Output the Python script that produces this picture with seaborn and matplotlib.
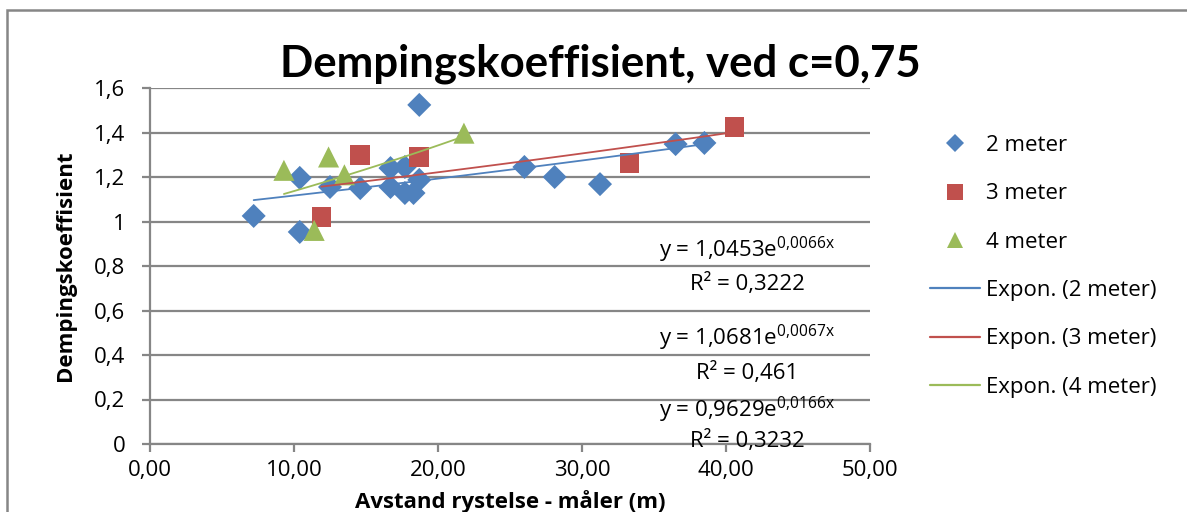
import numpy as np
import pandas as pd
import matplotlib
matplotlib.use("Agg")
import matplotlib.pyplot as plt
import seaborn as sns
from matplotlib.patches import Rectangle
from matplotlib.lines import Line2D

# ---- data ----
x2 = [7.2, 10.4, 10.4, 12.5, 14.6, 16.7, 16.7, 17.7, 17.7, 18.3, 18.7, 18.7, 26.0, 28.1, 31.25, 36.5, 38.5]
y2 = [1.025, 0.953, 1.196, 1.155, 1.15, 1.155, 1.24, 1.245, 1.128, 1.128, 1.187, 1.524, 1.245, 1.2, 1.168, 1.348, 1.353]
x3 = [11.9, 14.6, 18.7, 33.3, 40.6]
y3 = [1.02, 1.3, 1.29, 1.263, 1.425]
x4 = [9.3, 11.4, 12.4, 13.5, 21.8]
y4 = [1.23, 0.96, 1.29, 1.21, 1.397]

series_names = ["2 meter", "3 meter", "4 meter"]
trend_names = ["Expon. (2 meter)", "Expon. (3 meter)", "Expon. (4 meter)"]
trend_a = [1.0453, 1.0681, 0.9629]
trend_b = [0.0066, 0.0067, 0.0166]
eq_labels = ["y = 1,0453e", "y = 1,0681e", "y = 0,9629e"]
eq_exps = ["0,0066x", "0,0067x", "0,0166x"]
r2_labels = ["R² = 0,3222", "R² = 0,461", "R² = 0,3232"]

xticks = [0, 10, 20, 30, 40, 50]
xticklabels = ["0,00", "10,00", "20,00", "30,00", "40,00", "50,00"]
yticks = [0, 0.2, 0.4, 0.6, 0.8, 1.0, 1.2, 1.4, 1.6]
yticklabels = ["0", "0,2", "0,4", "0,6", "0,8", "1", "1,2", "1,4", "1,6"]

title = "Dempingskoeffisient, ved c=0,75"
xlabel = "Avstand rystelse - måler (m)"
ylabel = "Dempingskoeffisient"

# ---- style ----
sns.set_style("white")
plt.rcParams["font.family"] = ["Open Sans", "DejaVu Sans"]
plt.rcParams["mathtext.fontset"] = "custom"
plt.rcParams["mathtext.rm"] = "Open Sans"
plt.rcParams["text.color"] = "black"
plt.rcParams["axes.labelcolor"] = "black"

colors = ["#4F81BD", "#C0504D", "#9BBB59"]
markers = ["D", "s", "^"]
sizes = [150, 200, 230]
grid_c = "#868686"
FS = 16

W, H = 1187, 512
fig = plt.figure(figsize=(W / 100, H / 100), dpi=100)
ax = fig.add_axes([150 / W, 1 - 444 / H, 720 / W, 356 / H])

# chart border
fig.patches.append(Rectangle((7 / W, -0.2), 1.2, 1 - 10 / H + 0.2, transform=fig.transFigure,
                             fill=False, edgecolor=grid_c, linewidth=1.8))

xs = [x2, x3, x4]
ys = [y2, y3, y4]
for i in range(3):
    df = pd.DataFrame({"x": xs[i], "y": ys[i]})
    sns.scatterplot(data=df, x="x", y="y", ax=ax, marker=markers[i], s=sizes[i],
                    color=colors[i], edgecolor="none", linewidth=0, zorder=3)
for i in range(3):
    xx = np.linspace(min(xs[i]), max(xs[i]), 50)
    tdf = pd.DataFrame({"x": xx, "y": trend_a[i] * np.exp(trend_b[i] * xx)})
    sns.lineplot(data=tdf, x="x", y="y", ax=ax, color=colors[i], linewidth=1.3, zorder=4)

ax.set_xlim(0, 50)
ax.set_ylim(0, 1.6)
ax.set_xticks(xticks)
ax.set_xticklabels(xticklabels)
ax.set_yticks(yticks)
ax.set_yticklabels(yticklabels)
ax.yaxis.grid(True, color=grid_c, linewidth=1.6)
ax.xaxis.grid(False)
ax.set_axisbelow(True)
for s in ["top", "right"]:
    ax.spines[s].set_visible(False)
for s in ["left", "bottom"]:
    ax.spines[s].set_color(grid_c)
    ax.spines[s].set_linewidth(1.6)
ax.tick_params(axis="both", which="major", direction="out", length=5.8, width=1.6,
               color=grid_c, labelsize=FS, labelcolor="black", bottom=True, left=True)
ax.tick_params(axis="x", pad=6)
ax.tick_params(axis="y", pad=12)

ax.set_xlabel(xlabel, fontsize=16, fontweight="bold", va="center")
ax.xaxis.set_label_coords(0.5, (444 - 502) / 356)
ax.set_ylabel(ylabel, fontsize=16, fontweight="bold", va="center")
ax.yaxis.set_label_coords((66 - 150) / 720, 0.5)
fig.text(600 / W, 1 - 64 / H, title, ha="center", va="center", fontsize=31.5,
         fontweight="bold", family=["Lato", "DejaVu Sans"], color="black")

# equation annotations
eq_y_px = [250, 338, 410]
r2_y_px = [284, 373, 441]
for i in range(3):
    ax.text(747 / W, 1 - eq_y_px[i] / H, eq_labels[i] + r"$^{\mathregular{" + eq_exps[i].replace(",", "{,}") + "}}$",
            transform=fig.transFigure, ha="center", va="center", fontsize=FS)
    ax.text(747 / W, 1 - r2_y_px[i] / H, r2_labels[i], transform=fig.transFigure,
            ha="center", va="center", fontsize=FS)

handles = []
for i in range(3):
    handles.append(Line2D([], [], linestyle="none", marker=markers[i], color=colors[i],
                          markersize=[9, 11, 12][i], markeredgewidth=0))
for i in range(3):
    handles.append(Line2D([], [], color=colors[i], linewidth=1.6))
labels = series_names + trend_names
fig.legend(handles, labels, loc="upper left", bbox_to_anchor=(930 / W, 1 - 135 / H),
           frameon=False, fontsize=FS, handlelength=2.25, handletextpad=0.25,
           labelspacing=1.23, borderaxespad=0, borderpad=0)

fig.savefig("out.png", dpi=100)
